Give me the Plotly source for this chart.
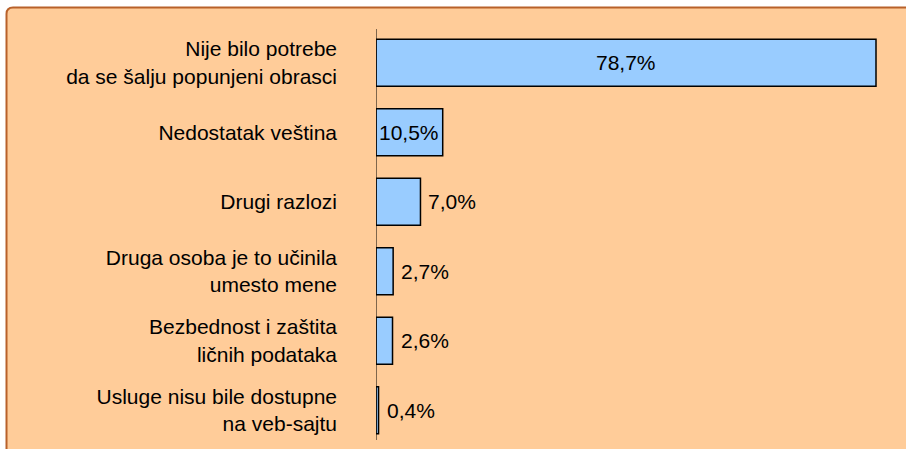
import plotly.graph_objects as go

# data
categories = [
    "Nije bilo potrebe<br>da se šalju popunjeni obrasci",
    "Nedostatak veština",
    "Drugi razlozi",
    "Druga osoba je to učinila<br>umesto mene",
    "Bezbednost i zaštita<br>ličnih podataka",
    "Usluge nisu bile dostupne<br>na veb-sajtu",
]
values = [78.7, 10.5, 7.0, 2.7, 2.6, 0.4]
value_labels = ["78,7%", "10,5%", "7,0%", "2,7%", "2,6%", "0,4%"]

W, H = 906, 449
ML, MR, MT, MB = 376, 0, 28, 4
PW, PH = W - ML - MR, H - MT - MB
FONT = dict(family="Liberation Sans, Arial, sans-serif", size=21, color="black")


def px(x, y):
    # figure pixel -> paper coordinates
    return (x - ML) / PW, (H - MB - y) / PH


fig = go.Figure()
fig.add_trace(go.Bar(
    y=categories, x=values, orientation="h",
    marker=dict(color="#99CCFF", line=dict(color="black", width=1.5)),
    hoverinfo="skip",
))

# value labels: centred inside long bars, just outside short ones
for cat, v, lab in zip(categories, values, value_labels):
    if v > 10:
        fig.add_annotation(x=v / 2, y=cat, text=lab, showarrow=False,
                           xanchor="center", font=FONT)
    else:
        fig.add_annotation(x=v, y=cat, text=lab, showarrow=False,
                           xanchor="left", xshift=6, font=FONT)

# peach panel with rounded top-left corner, running off the right/bottom
pts = [px(6.5, H + 20), px(6.5, 14), px(6.5, 7.5), px(13, 7.5),
       px(W + 20, 7.5), px(W + 20, H + 20)]
path = ("M {0[0]},{0[1]} L {1[0]},{1[1]} Q {2[0]},{2[1]} {3[0]},{3[1]} "
        "L {4[0]},{4[1]} L {5[0]},{5[1]} Z").format(*pts)
fig.add_shape(type="path", path=path, xref="paper", yref="paper",
              fillcolor="#FFCC99", line=dict(color="#B8612A", width=2),
              layer="below")

# vertical axis line
fig.add_shape(type="line", xref="x", yref="paper", x0=0, x1=0,
              y0=px(0, 440)[1], y1=px(0, 29)[1],
              line=dict(color="black", width=1))

fig.update_layout(
    width=W, height=H,
    margin=dict(l=ML, r=MR, t=MT, b=MB),
    paper_bgcolor="white", plot_bgcolor="rgba(0,0,0,0)",
    showlegend=False, bargap=0.324,
    font=FONT,
    xaxis=dict(range=[0, PW / (500 / 78.7)], visible=False, fixedrange=True),
    yaxis=dict(autorange="reversed", showgrid=False, zeroline=False,
               showline=False, ticks="", ticklabelstandoff=38,
               tickfont=FONT, fixedrange=True),
)

# drop the page margin so the figure fills the window
fig.write_html("out.html", config={"displayModeBar": False},
               post_script="document.body.style.margin = '0';")
